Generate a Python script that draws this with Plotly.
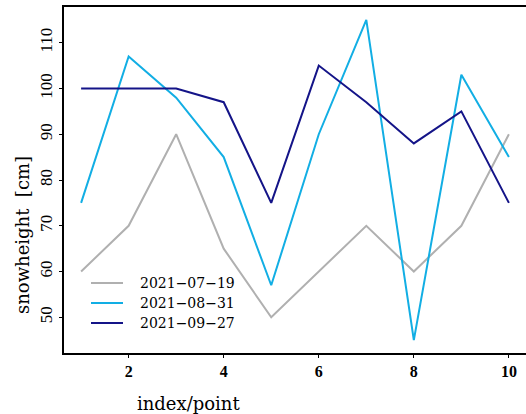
import plotly.graph_objects as go

index_points = [1, 2, 3, 4, 5, 6, 7, 8, 9, 10]
series_names = ["2021\u221207\u221219", "2021\u221208\u221231", "2021\u221209\u221227"]
snow_0719 = [60, 70, 90, 65, 50, 60, 70, 60, 70, 90]
snow_0831 = [75, 107, 98, 85, 57, 90, 115, 45, 103, 85]
snow_0927 = [100, 100, 100, 97, 75, 105, 97, 88, 95, 75]
x_ticks = [2, 4, 6, 8, 10]
y_ticks = [50, 60, 70, 80, 90, 100, 110]

colors = ["#b0b0b0", "#12aee4", "#141488"]

W, H = 526, 414
L, R, T, B = 64, 0, 7, 61
pw, ph = W - L - R, H - T - B

def px(xp):
    return (xp - L) / pw

def py(yp):
    return (H - B - yp) / ph

fig = go.Figure()
for name, vals, c in zip(series_names, [snow_0719, snow_0831, snow_0927], colors):
    fig.add_trace(go.Scatter(x=index_points, y=vals, mode="lines", name=name,
                             line=dict(color=c, width=2), showlegend=False))

# legend drawn as key lines + labels
shapes = []
annotations = []
for i, (name, c) in enumerate(zip(series_names, colors)):
    yrow = 283 + 20 * i
    shapes.append(dict(type="line", xref="paper", yref="paper",
                       x0=px(91), x1=px(123), y0=py(yrow), y1=py(yrow),
                       line=dict(color=c, width=2)))
    annotations.append(dict(text=name, xref="paper", yref="paper", x=px(138), y=py(yrow),
                            xanchor="left", yanchor="middle", showarrow=False,
                            font=dict(family="DejaVu Serif", size=14, color="black")))

annotations += [
    dict(text="index/point", xref="paper", yref="paper", x=px(188), y=py(403),
         xanchor="center", yanchor="middle", showarrow=False,
         font=dict(family="DejaVu Serif", size=18, color="black")),
    dict(text="snowheight  [cm]", xref="paper", yref="paper", x=px(22), y=py(235),
         xanchor="center", yanchor="middle", showarrow=False, textangle=-90,
         font=dict(family="DejaVu Serif", size=18, color="black")),
]

fig.update_layout(
    width=W, height=H,
    margin=dict(l=L, r=R, t=T, b=B),
    paper_bgcolor="white", plot_bgcolor="white",
    showlegend=False,
    xaxis=dict(range=[0.64, 10.36], tickvals=x_ticks, ticktext=[f"<b>{v}</b>" for v in x_ticks],
               showgrid=False, zeroline=False, showline=True, linecolor="black", linewidth=1.5,
               mirror=True, ticks="outside", ticklen=3, tickcolor="black", tickwidth=1,
               tickfont=dict(family="Liberation Serif", size=16, color="black")),
    yaxis=dict(range=[42.2, 117.8], tickvals=y_ticks, tickangle=-90,
               showgrid=False, zeroline=False, showline=True, linecolor="black", linewidth=1.5,
               mirror=False, ticks="outside", ticklen=3, tickcolor="black", tickwidth=1,
               tickfont=dict(family="Liberation Serif", size=17, color="black")),
    shapes=shapes,
    annotations=annotations,
)

fig.write_html("out.html")
